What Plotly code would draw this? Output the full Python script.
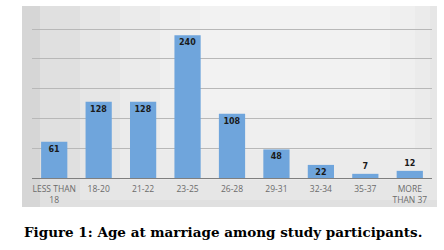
import plotly.graph_objects as go

categories = ["LESS THAN<br>18", "18-20", "21-22", "23-25", "26-28", "29-31", "32-34", "35-37", "MORE<br>THAN 37"]
counts = [61, 128, 128, 240, 108, 48, 22, 7, 12]
y_ticks = [0, 50, 100, 150, 200, 250]
caption = "Figure 1: Age at marriage among study participants."

W, H = 444, 250
L, R = 32, 12
T, B = 28, 72
pw = W - L - R
ph = H - T - B

def px(x):
    return (x - L) / pw

def py(y):
    return (H - B - y) / ph

label_pos = ["inside" if c >= 20 else "outside" for c in counts]

fig = go.Figure()
fig.add_trace(go.Bar(
    x=categories, y=counts,
    marker=dict(color="#6fa5dc", line=dict(width=0)),
    text=[str(c) for c in counts],
    textposition=label_pos, insidetextanchor="end",
    textfont=dict(family="DejaVu Sans", size=8, color="#1a1a1a", weight="bold"),
    constraintext="none",
    cliponaxis=False,
))

shapes = []
shapes.append(dict(type="rect", xref="paper", yref="paper", layer="below",
                   x0=px(22), x1=px(437), y0=py(207), y1=py(6),
                   fillcolor="#d6d6d6", line=dict(width=0)))
for (x0, x1, y0, y1, op) in [
    (40, 437, 207, 6, 0.25),
    (80, 437, 200, 6, 0.2),
    (120, 430, 180, 6, 0.2),
    (160, 415, 150, 6, 0.2),
    (200, 390, 110, 6, 0.2),
]:
    shapes.append(dict(type="rect", xref="paper", yref="paper", layer="below",
                       x0=px(x0), x1=px(x1), y0=py(y0), y1=py(y1),
                       fillcolor="white", opacity=op, line=dict(width=0)))

fig.update_layout(
    width=W, height=H,
    margin=dict(l=L, r=R, t=T, b=B, pad=0),
    paper_bgcolor="white",
    plot_bgcolor="rgba(0,0,0,0)",
    bargap=0.41,
    showlegend=False,
    shapes=shapes,
    xaxis=dict(
        type="category",
        showgrid=False,
        showline=True, linecolor="#7f7f7f", linewidth=1,
        ticks="", tickfont=dict(family="Open Sans", size=8.5, color="#6b6b6b"),
        ticklabelstandoff=3,
    ),
    yaxis=dict(
        range=[0, 252],
        tickvals=y_ticks,
        showticklabels=False,
        showgrid=True, gridcolor="#b8b8b8", gridwidth=1,
        zeroline=False,
        showline=False,
    ),
    annotations=[dict(
        text="<b>" + caption + "</b>",
        xref="paper", yref="paper",
        x=px(22), y=py(232), xanchor="left", yanchor="middle",
        showarrow=False,
        font=dict(family="DejaVu Serif", size=13.5, color="#000000"),
    )],
)

fig.write_html("out.html", config={"displayModeBar": False},
               post_script="document.body.style.margin='0';document.body.style.overflow='hidden';")
